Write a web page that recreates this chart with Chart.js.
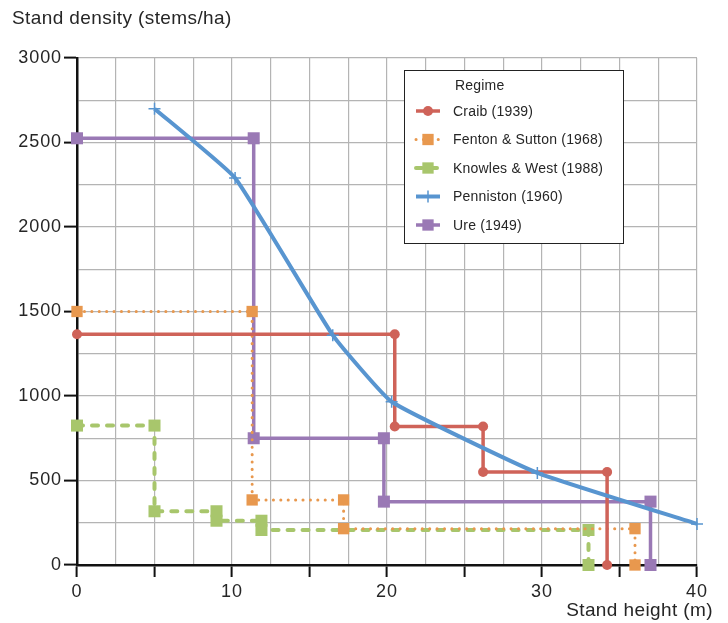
<!DOCTYPE html>
<html>
<head>
<meta charset="utf-8">
<script src="https://cdn.jsdelivr.net/npm/chart.js@4/dist/chart.umd.min.js"></script>
<style>
  body { margin: 0; background: #fff; }
  canvas { display: block; }
</style>
</head>
<body>
<canvas id="chart" width="728" height="623"></canvas>
<script>
// stand height (m) and stand density (stems/ha) per regime
const craibHeight = [0, 20.5, 20.5, 26.2, 26.2, 34.2, 34.2];
const craibDensity = [1365, 1365, 820, 820, 550, 550, 0];

const fentonHeight = [0, 11.3, 11.3, 17.2, 17.2, 36, 36];
const fentonDensity = [1500, 1500, 385, 385, 215, 215, 0];

const knowlesHeight = [0, 5, 5, 9, 9, 11.9, 11.9, 33, 33];
const knowlesDensity = [825, 825, 318, 318, 262, 262, 207, 207, 0];

const pennistonHeight = [5, 10.2, 16.5, 20.3, 29.7, 40];
const pennistonDensity = [2700, 2290, 1360, 966, 545, 243];

const ureHeight = [0, 11.4, 11.4, 19.8, 19.8, 37, 37];
const ureDensity = [2525, 2525, 750, 750, 375, 375, 0];

const regimeNames = ['Craib (1939)', 'Fenton & Sutton (1968)', 'Knowles & West (1988)', 'Penniston (1960)', 'Ure (1949)'];

const FONT = '"Liberation Sans", Arial, sans-serif';
const TEXT = '#262626';

function pts(xs, ys) {
  return xs.map((x, i) => ({ x: x, y: ys[i] }));
}

const datasets = [
  {
    label: regimeNames[0],
    data: pts(craibHeight, craibDensity),
    borderColor: '#cf6359',
    borderWidth: 3.5, pointStyle: 'circle', pointRadius: 5,
    order: 1
  },
  {
    label: regimeNames[1],
    data: pts(fentonHeight, fentonDensity),
    borderColor: '#e8984e',
    borderWidth: 3, borderDash: [0.1, 7.3], borderCapStyle: 'round',
    pointStyle: 'rect', pointRadius: 8,
    order: 2
  },
  {
    label: regimeNames[2],
    data: pts(knowlesHeight, knowlesDensity),
    borderColor: '#a8c66c',
    borderWidth: 4, borderDash: [6, 9], borderCapStyle: 'round',
    pointStyle: 'rect', pointRadius: 8.5,
    order: 3
  },
  {
    label: regimeNames[3],
    data: pts(pennistonHeight, pennistonDensity),
    borderColor: '#5895d0',
    borderWidth: 4, tension: 0.12,
    pointStyle: 'cross', pointRadius: 6, pointBorderWidth: 1.5,
    order: 0
  },
  {
    label: regimeNames[4],
    data: pts(ureHeight, ureDensity),
    borderColor: '#9a79b5',
    borderWidth: 3.5, pointStyle: 'rect', pointRadius: 8.5,
    order: 4
  }
];

datasets.forEach(d => {
  d.showLine = true;
  d.fill = false;
  d.clip = false;
  d.backgroundColor = d.borderColor;
  d.pointBorderColor = d.borderColor;
  d.pointBackgroundColor = d.borderColor;
  if (d.pointBorderWidth === undefined) d.pointBorderWidth = 0;
});

const overlay = {
  id: 'overlay',
  beforeDraw(chart) {
    chart.ctx.letterSpacing = '0.9px';
  },
  afterDraw(chart) {
    const ctx = chart.ctx;
    ctx.save();
    ctx.fillStyle = TEXT;
    ctx.font = '19px ' + FONT;
    ctx.letterSpacing = '0.4px';
    ctx.textBaseline = 'middle';
    ctx.textAlign = 'left';
    ctx.fillText('Stand density (stems/ha)', 12, 19);
    ctx.textAlign = 'right';
    ctx.fillText('Stand height (m)', 713, 611);

    // legend box
    const bx = 404, by = 70, bw = 219, bh = 173;
    ctx.fillStyle = '#fff';
    ctx.fillRect(bx, by, bw, bh);
    ctx.strokeStyle = '#222';
    ctx.lineWidth = 1;
    ctx.strokeRect(bx + 0.5, by + 0.5, bw, bh);

    ctx.fillStyle = TEXT;
    ctx.font = '14px ' + FONT;
    ctx.letterSpacing = '0.2px';
    ctx.textAlign = 'left';
    ctx.fillText('Regime', 455, 86);
    chart.data.datasets.forEach((d, i) => {
      const y = 111 + i * 28.5;
      ctx.save();
      ctx.strokeStyle = d.borderColor;
      ctx.lineWidth = d.borderWidth;
      ctx.lineCap = d.borderCapStyle || 'butt';
      ctx.setLineDash(d.borderDash || []);
      ctx.beginPath();
      ctx.moveTo(416, y);
      ctx.lineTo(440, y);
      ctx.stroke();
      ctx.setLineDash([]);
      ctx.fillStyle = d.borderColor;
      ctx.lineWidth = d.pointBorderWidth || 1;
      Chart.helpers.drawPoint(ctx, {
        pointStyle: d.pointStyle,
        rotation: 0,
        radius: d.pointStyle === 'circle' ? 5 : (d.pointStyle === 'cross' ? 6 : 8),
        borderWidth: d.pointBorderWidth
      }, 428, y);
      ctx.restore();
      ctx.fillStyle = TEXT;
      ctx.fillText(d.label, 453, y + 1);
    });
    ctx.restore();
    ctx.letterSpacing = '0px';
  }
};

new Chart(document.getElementById('chart'), {
  type: 'scatter',
  data: { datasets: datasets },
  plugins: [overlay],
  options: {
    responsive: false,
    animation: false,
    layout: { padding: { top: 58, right: 31, left: 0, bottom: 0 } },
    plugins: {
      legend: { display: false },
      tooltip: { enabled: false }
    },
    scales: {
      x: {
        type: 'linear',
        min: 0, max: 40,
        afterFit(scale) { scale.height = 58; },
        ticks: {
          stepSize: 2.5,
          autoSkip: false,
          maxRotation: 0,
          padding: 4,
          color: TEXT,
          font: { family: FONT, size: 18 },
          callback: v => (v % 10 === 0 ? v : '')
        },
        grid: {
          color: '#b4b4b4',
          lineWidth: 1.2,
          tickLength: 12,
          tickWidth: 2,
          tickColor: c => (c.tick && c.tick.value % 5 === 0 ? '#111' : 'rgba(0,0,0,0)')
        },
        border: { display: true, color: '#111', width: 2.5 }
      },
      y: {
        type: 'linear',
        min: 0, max: 3000,
        afterFit(scale) { scale.width = 77; },
        ticks: {
          stepSize: 250,
          autoSkip: false,
          padding: 2,
          color: TEXT,
          font: { family: FONT, size: 18 },
          callback: v => (v % 500 === 0 ? v : '')
        },
        grid: {
          color: '#b4b4b4',
          lineWidth: 1.2,
          tickLength: 13,
          tickWidth: 2,
          tickColor: c => (c.tick && c.tick.value % 500 === 0 ? '#111' : 'rgba(0,0,0,0)')
        },
        border: { display: true, color: '#111', width: 2.5 }
      }
    }
  }
});
</script>
</body>
</html>
